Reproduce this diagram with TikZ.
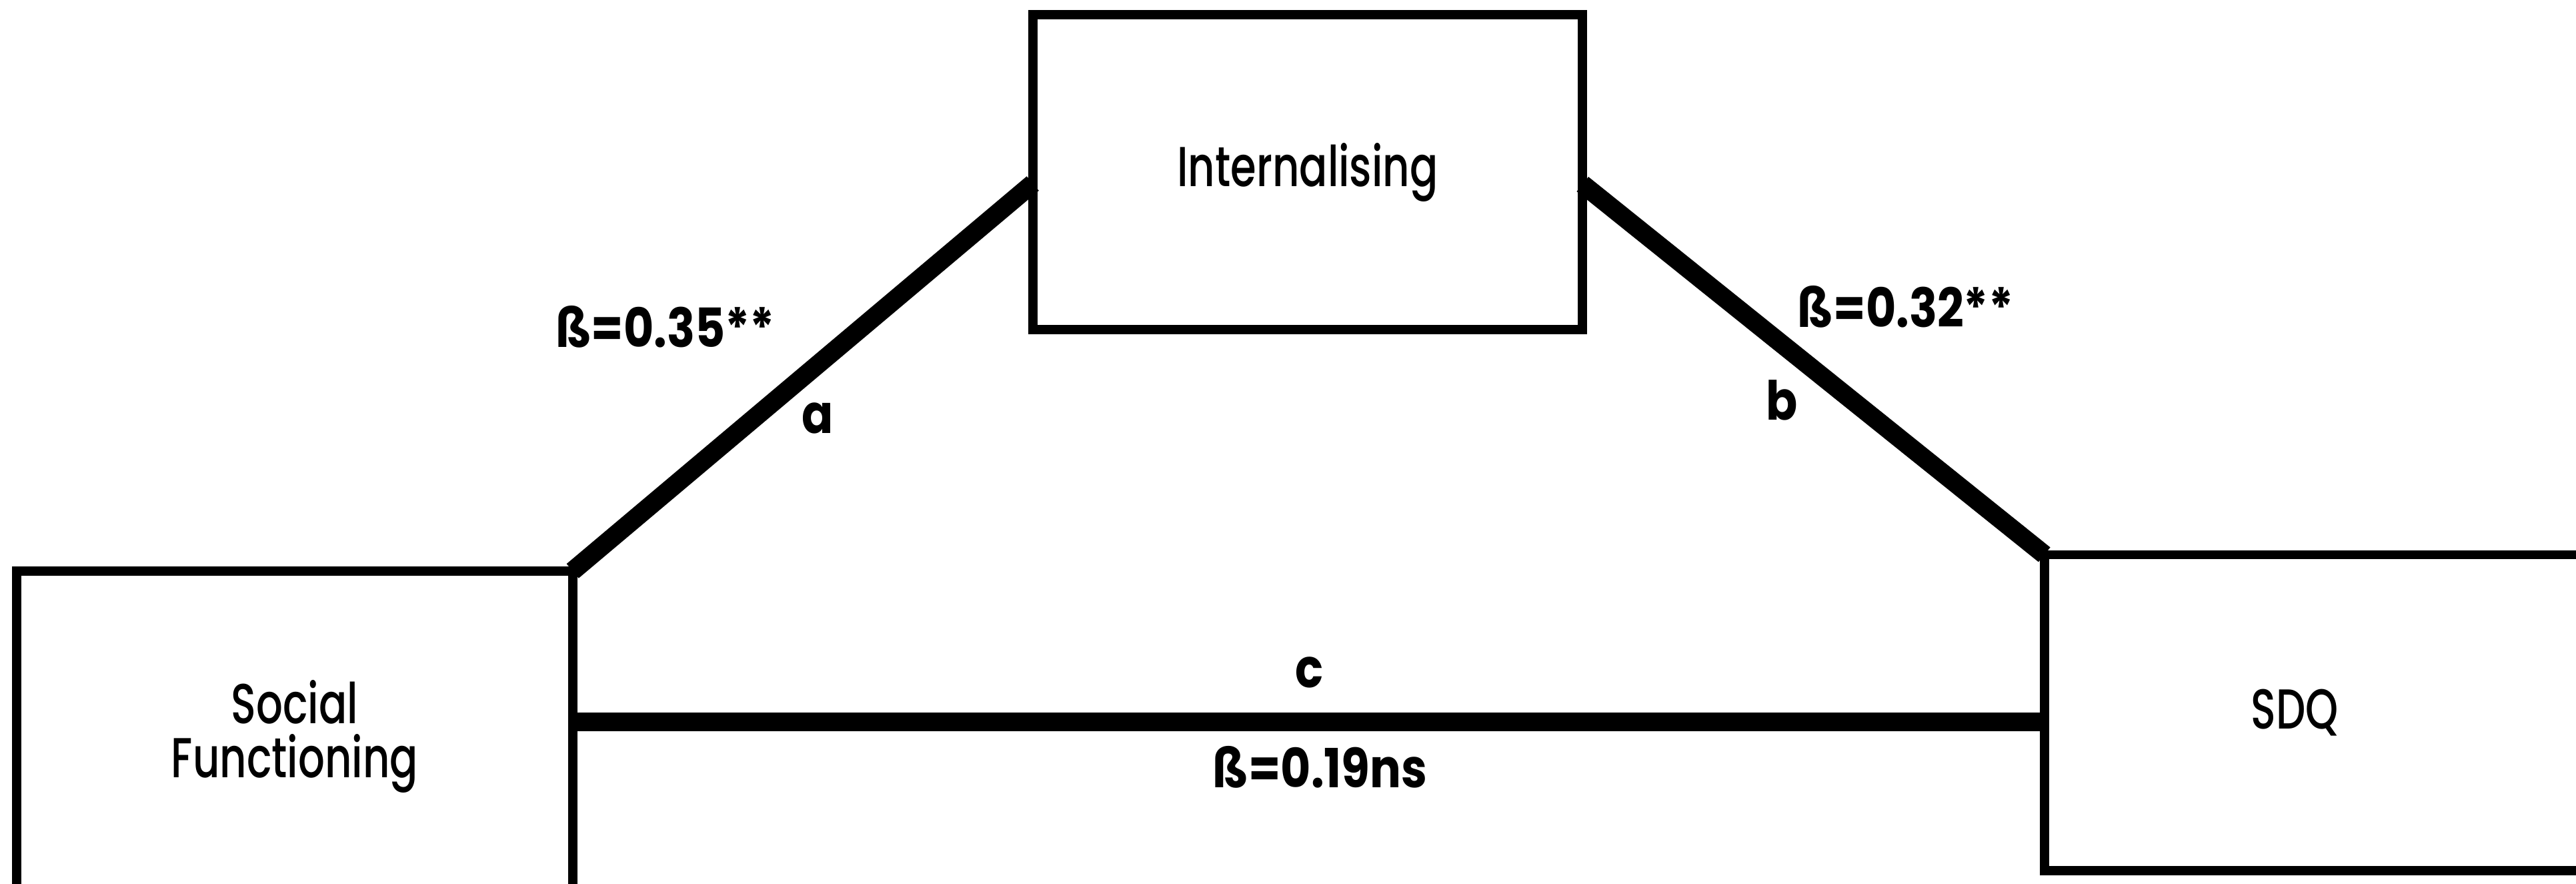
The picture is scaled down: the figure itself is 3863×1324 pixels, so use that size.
\documentclass[tikz,border=0pt]{standalone}
\usepackage{fontspec}
\setmainfont{Poppins}
\newfontfamily\boxfont{Poppins}[UprightFont=* Medium, FakeStretch=0.74]
\newfontfamily\labfont{Poppins}[UprightFont=* Bold, FakeStretch=0.86]
\usetikzlibrary{calc}
\tikzset{
  varbox/.style={draw=black, line width=3.9pt, rectangle, inner sep=0pt, outer sep=0pt,
    minimum width=8.24cm, minimum height=4.72cm, align=center,
    font=\boxfont\fontsize{24}{30}\selectfont},
  pathline/.style={draw=black, line width=8pt},
  coef/.style={inner sep=0pt, font=\labfont\fontsize{23}{28}\selectfont},
}
\begin{document}
\begin{tikzpicture}[x=0.01cm, y=-0.01cm]
  \clip (0,0) rectangle (3863,1324);
  \fill[white] (0,0) rectangle (3863,1324);
  % boxes
  \node[varbox, minimum width=8.33cm, minimum height=4.96cm] (sf) at (442,1104)
    {Social\\[-7pt]Functioning};
  \node[varbox] (int) at (1961,258) {Internalising};
  \node[varbox, minimum width=8.20cm, minimum height=4.73cm] (sdq) at (3476,1068)
    {\hspace*{-0.7cm}SDQ};
  % connectors
  \coordinate (cy) at (0,1082);
  \draw[pathline] (sf.north east) -- ([yshift=-0.17cm]int.west);
  \draw[pathline] ([yshift=-0.18cm]int.east) -- (sdq.north west);
  \draw[pathline] (sf.east |- cy) -- (sdq.west |- cy);
  % labels
  \node[coef] (la) at (998,490) {ß=0.35**};
  \node[coef] (lla) at (1226,627) {a};
  \node[coef] (lb) at (2858,460) {ß=0.32**};
  \node[coef] (llb) at (2672,600) {b};
  \node[coef] (llc) at (1964,1008) {c};
  \node[coef] (lc) at (1980,1150) {ß=0.19ns};
\end{tikzpicture}
\end{document}
